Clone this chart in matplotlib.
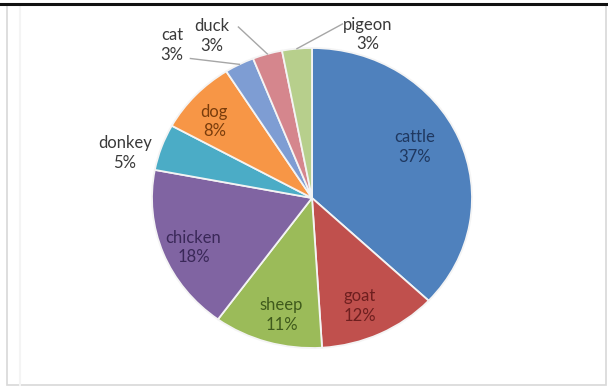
import numpy as np
import matplotlib.pyplot as plt
from matplotlib.lines import Line2D
from matplotlib.patches import Rectangle

plt.rcParams['font.family'] = ['Lato', 'DejaVu Sans']

animals = ['cattle', 'goat', 'sheep', 'chicken', 'donkey', 'dog', 'cat', 'duck', 'pigeon']
shares = [37, 12, 11, 18, 5, 8, 3, 3, 3]

slice_colors = ['#4F81BD', '#C0504D', '#9BBB59', '#8064A2', '#4BACC6',
                '#F79646', '#7E9DD3', '#D5868D', '#B7CF8C']
text_colors = ['#1F3860', '#6E1F1F', '#3F5A1C', '#3A2858', '#3A3A3A',
               '#7A3D0C', '#3A3A3A', '#3A3A3A', '#3A3A3A']

# label centres (pie radius = 1), outside labels get a leader line
label_pos = [(0.64, 0.34), (0.30, -0.72), (-0.19, -0.78), (-0.74, -0.33),
             (-1.17, 0.30), (-0.61, 0.51), (-0.875, 1.02), (-0.625, 1.08),
             (0.35, 1.09)]
leader_start = {'cat': (-0.76, 0.93), 'duck': (-0.46, 1.14), 'pigeon': (0.19, 1.16)}

W, H = 608, 389
cx, cy = 312, 198      # pie centre in pixels
rx, ry = 160, 150      # pie half-width / half-height in pixels

fig = plt.figure(figsize=(W / 100, H / 100), dpi=100)
fig.patch.set_facecolor('white')

# frame around the chart
fig.add_artist(Rectangle((7 / W, 4 / H), 599 / W, 381 / H, transform=fig.transFigure,
                         fill=False, edgecolor='#D8D8D8', linewidth=1.2))
fig.add_artist(Line2D([20 / W, 20 / W], [4 / H, 383 / H], transform=fig.transFigure,
                      color='#F4F4F4', linewidth=1.5))
fig.add_artist(Line2D([0, 1], [1 - 3.5 / H, 1 - 3.5 / H], transform=fig.transFigure,
                      color='#111111', linewidth=2.2))

ax = fig.add_axes([0, 0, 1, 1])
wedges, _ = ax.pie(shares, colors=slice_colors, startangle=90, counterclock=False,
                   wedgeprops=dict(edgecolor='#F4F4F4', linewidth=1.3))
ax.set_aspect('auto')
ax.set_xlim(-cx / rx, (W - cx) / rx)
ax.set_ylim(-(H - cy) / ry, cy / ry)
ax.axis('off')

for name, val, (lx, ly), tc, w in zip(animals, shares, label_pos, text_colors, wedges):
    ax.text(lx, ly, f'{name}\n{val}%', ha='center', va='center', fontsize=12,
            color=tc, linespacing=1.25)
    if name in leader_start:
        mid = np.deg2rad((w.theta1 + w.theta2) / 2)
        sx, sy = leader_start[name]
        ax.plot([sx, np.cos(mid)], [sy, np.sin(mid)], color='#A6A6A6',
                linewidth=1, clip_on=False)

fig.savefig('out.png', dpi=100)
